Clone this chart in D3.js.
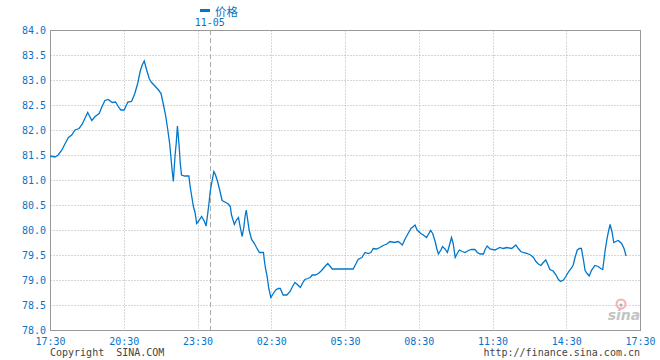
<!DOCTYPE html>
<html>
<head>
<meta charset="utf-8">
<script src="https://cdn.jsdelivr.net/npm/d3@7"></script>
<style>
body { margin: 0; background: #fff; }
svg { display: block; }
</style>
</head>
<body>
<svg id="chart" width="660" height="360"></svg>
<script>
var times = ["17:30","17:42","17:50","17:59","18:07","18:15","18:23","18:31","18:41","18:49",
  "18:55","19:02","19:12","19:20","19:30","19:36","19:44","19:52","20:02","20:10",
  "20:18","20:23","20:31","20:40","20:49","20:57","21:04","21:10","21:15","21:20",
  "21:26","21:32","21:38","21:46","21:54","22:01","22:07","22:12","22:17","22:22",
  "22:25","22:28","22:31","22:35","22:38","22:41","22:45","22:48","22:51","22:59",
  "23:09","23:12","23:16","23:20","23:24","23:28","23:32","23:40","23:47","23:51",
  "23:55","23:58","00:01","00:06","00:10","00:14","00:19","00:25","00:30","00:39",
  "00:45","00:50","00:53","01:00","01:05","01:10","01:14","01:19","01:23","01:26",
  "01:29","01:32","01:36","01:42","01:49","01:54","02:01","02:11","02:13","02:16",
  "02:20","02:24","02:29","02:35","02:41","02:47","02:52","02:59","03:08","03:16",
  "03:22","03:28","03:35","03:41","03:46","03:52","03:59","04:05","04:10","04:17",
  "04:25","04:33","04:41","04:48","04:53","04:59","05:50","05:57","06:02","06:11",
  "06:19","06:27","06:33","06:39","06:47","06:55","07:03","07:12","07:20","07:30",
  "07:40","07:50","07:56","08:04","08:11","08:17","08:21","08:26","08:35","08:41",
  "08:49","08:56","08:59","09:04","09:10","09:14","09:18","09:24","09:28","09:34",
  "09:40","09:45","09:50","09:54","09:59","10:04","10:09","10:16","10:23","10:31",
  "10:39","10:47","10:53","11:00","11:08","11:12","11:17","11:24","11:36","11:48",
  "11:56","12:05","12:17","12:27","12:33","12:39","12:45","12:55","13:03","13:10",
  "13:16","13:22","13:28","13:34","13:40","13:45","13:50","13:58","14:05","14:11",
  "14:16","14:23","14:29","14:36","14:42","14:47","14:52","14:57","15:02","15:07",
  "15:12","15:16","15:21","15:26","15:32","15:40","15:48","15:54","15:59","16:02",
  "16:05","16:09","16:13","16:17","16:22","16:26","16:31","16:37","16:45","16:51",
  "16:56"];

var prices = [81.48,81.46,81.50,81.60,81.73,81.85,81.90,82.00,82.03,82.12,
  82.23,82.35,82.19,82.27,82.33,82.45,82.59,82.61,82.55,82.56,
  82.45,82.40,82.40,82.56,82.57,82.73,82.93,83.17,83.30,83.38,
  83.20,83.03,82.95,82.88,82.81,82.73,82.50,82.30,82.03,81.73,
  81.47,81.20,80.97,81.47,81.73,82.08,81.70,81.33,81.10,81.08,
  81.08,80.87,80.67,80.47,80.35,80.13,80.17,80.27,80.17,80.08,
  80.33,80.53,80.77,81.00,81.17,81.10,80.97,80.77,80.59,80.55,
  80.52,80.47,80.30,80.11,80.20,80.25,80.07,79.87,80.05,80.27,
  80.40,80.23,80.00,79.81,79.73,79.65,79.55,79.55,79.40,79.23,
  79.07,78.83,78.65,78.73,78.80,78.83,78.83,78.70,78.70,78.77,
  78.87,78.95,78.90,78.85,78.93,79.01,79.03,79.05,79.10,79.10,
  79.13,79.19,79.27,79.33,79.28,79.22,79.22,79.33,79.41,79.45,
  79.55,79.53,79.55,79.63,79.62,79.65,79.69,79.72,79.77,79.75,
  79.77,79.70,79.81,79.93,80.03,80.07,80.10,80.00,79.93,79.90,
  79.85,79.95,79.99,79.93,79.77,79.63,79.52,79.60,79.67,79.62,
  79.55,79.70,79.85,79.73,79.45,79.53,79.60,79.57,79.55,79.59,
  79.61,79.61,79.55,79.52,79.52,79.61,79.68,79.62,79.60,79.65,
  79.63,79.65,79.63,79.70,79.63,79.57,79.55,79.53,79.50,79.45,
  79.37,79.32,79.29,79.35,79.40,79.31,79.21,79.18,79.10,79.01,
  78.97,79.00,79.07,79.17,79.23,79.30,79.47,79.60,79.63,79.63,
  79.40,79.19,79.13,79.08,79.20,79.29,79.27,79.23,79.21,79.40,
  79.60,79.80,79.97,80.11,79.95,79.75,79.77,79.79,79.73,79.63,
  79.48];

var xTickLabels = ["17:30","20:30","23:30","02:30","05:30","08:30","11:30","14:30","17:30"];
var yTicks = [78.0,78.5,79.0,79.5,80.0,80.5,81.0,81.5,82.0,82.5,83.0,83.5,84.0];
var seriesName = "价格";
var startDay = "2023-11-04";
var dateMark = "2023-11-05 00:00";

var parse = d3.timeParse("%Y-%m-%d %H:%M");

// "HH:MM" list -> dates, rolling over to the next day when the clock goes back
function toDates(list) {
  var day = parse(startDay + " 00:00"), prev = -1;
  return list.map(function(t) {
    var p = t.split(":"), m = +p[0] * 60 + +p[1];
    if (m < prev) day = d3.timeDay.offset(day, 1);
    prev = m;
    return d3.timeMinute.offset(day, m);
  });
}

var dates = toDates(times);
var tickDates = toDates(xTickLabels);
var data = dates.map(function(d, i) { return { time: d, value: prices[i] }; });

var margin = { left: 50, top: 30, right: 20, bottom: 30 };
var width = 660, height = 360;
var blue = "#0a73c8";
var mono = "'DejaVu Sans Mono', monospace";

var x = d3.scaleTime()
  .domain([tickDates[0], tickDates[tickDates.length - 1]])
  .range([margin.left, width - margin.right]);
var y = d3.scaleLinear()
  .domain([yTicks[0], yTicks[yTicks.length - 1]])
  .range([height - margin.bottom, margin.top]);

var svg = d3.select("#chart");

// grid
var grid = svg.append("g").attr("transform", "translate(0.5,0.5)")
  .attr("stroke", "#b0b0b0").attr("stroke-dasharray", "1,2");
grid.selectAll(".hg").data(yTicks.slice(1, -1)).enter().append("line")
  .attr("x1", margin.left).attr("x2", width - margin.right)
  .attr("y1", function(d) { return Math.round(y(d)); })
  .attr("y2", function(d) { return Math.round(y(d)); });
grid.selectAll(".vg").data(tickDates.slice(1, -1)).enter().append("line")
  .attr("y1", margin.top).attr("y2", height - margin.bottom)
  .attr("x1", function(d) { return Math.round(x(d)); })
  .attr("x2", function(d) { return Math.round(x(d)); });

// date separator
var mid = parse(dateMark);
svg.append("line")
  .attr("x1", Math.round(x(mid)) + 0.5).attr("x2", Math.round(x(mid)) + 0.5)
  .attr("y1", margin.top).attr("y2", height - margin.bottom)
  .attr("stroke", "#aaa").attr("stroke-dasharray", "5,3");
svg.append("text")
  .attr("x", x(mid)).attr("y", 26)
  .attr("text-anchor", "middle")
  .attr("font-family", mono).attr("font-size", 10).attr("fill", blue)
  .text(d3.timeFormat("%m-%d")(mid));

// sina logo
var logo = svg.append("g");
logo.append("circle").attr("cx", 621).attr("cy", 304).attr("r", 4.5)
  .attr("fill", "none").attr("stroke", "#f7b0b0").attr("stroke-width", 2);
logo.append("circle").attr("cx", 621).attr("cy", 305).attr("r", 1.6).attr("fill", "#aaa");
logo.append("text").attr("x", 624).attr("y", 320).attr("text-anchor", "middle")
  .attr("font-family", "'DejaVu Sans', sans-serif").attr("font-style", "italic")
  .attr("font-weight", "bold").attr("font-size", 14).attr("fill", "#c4c4c4")
  .text("sina");

// frame
svg.append("rect")
  .attr("x", margin.left + 0.5).attr("y", margin.top + 0.5)
  .attr("width", width - margin.left - margin.right)
  .attr("height", height - margin.top - margin.bottom)
  .attr("fill", "none").attr("stroke", "#999");

// line
var line = d3.line()
  .x(function(d) { return x(d.time); })
  .y(function(d) { return y(d.value); });
svg.append("path").datum(data)
  .attr("d", line)
  .attr("fill", "none").attr("stroke", "#0077cc").attr("stroke-width", 1.3);

// axes
var yAxis = svg.append("g")
  .attr("transform", "translate(" + margin.left + ",0)")
  .call(d3.axisLeft(y).tickValues(yTicks).tickFormat(d3.format(".1f")).tickSize(0).tickPadding(4));
var xAxis = svg.append("g")
  .attr("transform", "translate(0," + (height - margin.bottom) + ")")
  .call(d3.axisBottom(x).tickValues(tickDates)
    .tickFormat(function(d, i) { return xTickLabels[i]; })
    .tickSize(0).tickPadding(8));
[yAxis, xAxis].forEach(function(a) {
  a.select(".domain").remove();
  a.selectAll("text").attr("font-family", mono).attr("font-size", 10).attr("fill", blue);
});

// legend
svg.append("rect").attr("x", 200).attr("y", 9).attr("width", 10).attr("height", 3).attr("fill", blue);
svg.append("text").attr("x", 215).attr("y", 16)
  .attr("font-family", "'Noto Sans CJK SC', sans-serif").attr("font-size", 11.5).attr("fill", blue)
  .text(seriesName);

// footer
svg.append("text").attr("x", margin.left).attr("y", 356)
  .attr("font-family", mono).attr("font-size", 10).attr("fill", "#444")
  .attr("xml:space", "preserve").style("white-space", "pre")
  .text("Copyright  SINA.COM");
svg.append("text").attr("x", width - margin.right).attr("y", 356)
  .attr("text-anchor", "end")
  .attr("font-family", mono).attr("font-size", 10).attr("fill", "#444")
  .text("http://finance.sina.com.cn");
</script>
</body>
</html>
